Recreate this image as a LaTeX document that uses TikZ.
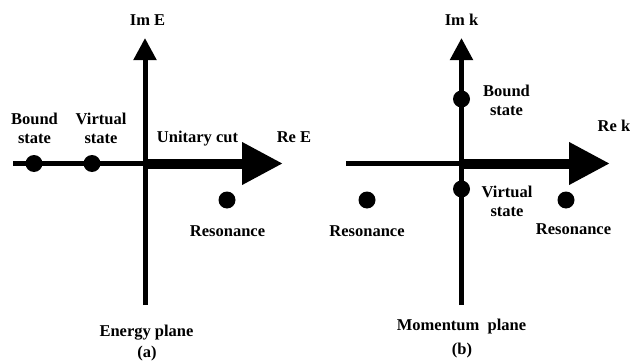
\documentclass[tikz,border=0pt]{standalone}
\usepackage{fontspec}
\setmainfont{Liberation Serif}
\usetikzlibrary{arrows.meta}
\tikzset{
  lbl/.style={inner sep=0pt, font=\fontsize{16.5}{19}\selectfont\bfseries},
  lbl2/.style={lbl, align=center},
  thinaxis/.style={line width=5pt},
  thickaxis/.style={line width=10pt, -{Triangle[length=41pt,width=40pt]}},
  imaxis/.style={line width=5pt, -{Triangle[length=22pt,width=22pt]}},
  pole/.style={circle, fill=black, inner sep=0pt, minimum size=17pt},
}
\begin{document}
\begin{tikzpicture}[x=1pt,y=-1pt]
\useasboundingbox (0,0) rectangle (630,364);

% ---------- (a) energy plane ----------
\coordinate (aO) at (145,163.5);
\coordinate (aL) at (13,163.5);
\coordinate (aR) at (283,163.5);
\coordinate (aB) at (145,305);
\coordinate (aT) at (145,38);
\draw[thinaxis] (aL) -- (aO);
\draw[thickaxis] (aO) -- (aR);
\draw[imaxis] (aB) -- (aT);
\node[pole] (abound) at (34,163.5) {};
\node[pole] (avirt) at (92,163.5) {};
\node[pole] (ares) at (227,200) {};

% two-line labels: base anchor sits on the last line
\node[lbl, anchor=base] (aIm) at (147.5,25) {Im E};
\node[lbl, anchor=base] (aRe) at (294,142) {Re E};
\node[lbl, anchor=base] (acut) at (197.5,142) {Unitary cut};
\node[lbl2, anchor=base] (aboundl) at (34.5,143) {Bound\\state};
\node[lbl2, anchor=base] (avirtl) at (101,143) {Virtual\\state};
\node[lbl, anchor=base] (aresl) at (227.5,236) {Resonance};
\node[lbl, anchor=base] (aplane) at (146.5,336.5) {Energy plane};
\node[lbl, anchor=base] (atag) at (147,357) {(a)};

% ---------- (b) momentum plane ----------
\coordinate (bO) at (461.5,163.5);
\coordinate (bL) at (346,163.5);
\coordinate (bR) at (610,163.5);
\coordinate (bB) at (461.5,305);
\coordinate (bT) at (461.5,38);
\draw[thinaxis] (bL) -- (bO);
\draw[thickaxis] (bO) -- (bR);
\draw[imaxis] (bB) -- (bT);
\node[pole] (bbound) at (461.5,99) {};
\node[pole] (bvirt) at (461.5,189) {};
\node[pole] (bresl) at (367,200) {};
\node[pole] (bresr) at (566,200) {};

\node[lbl, anchor=base] (bIm) at (461.5,25) {Im k};
\node[lbl, anchor=base] (bRe) at (614,131.5) {Re k};
\node[lbl2, anchor=base] (bboundl) at (506.5,115) {Bound\\state};
\node[lbl2, anchor=base] (bvirtl) at (507,216.5) {Virtual\\state};
\node[lbl, anchor=base] (bresll) at (367,236.5) {Resonance};
\node[lbl, anchor=base] (bresrl) at (573.5,234) {Resonance};
\node[lbl, anchor=base] (bplane) at (461.5,330) {Momentum\ \ plane};
\node[lbl, anchor=base] (btag) at (462,354) {(b)};
\end{tikzpicture}
\end{document}
